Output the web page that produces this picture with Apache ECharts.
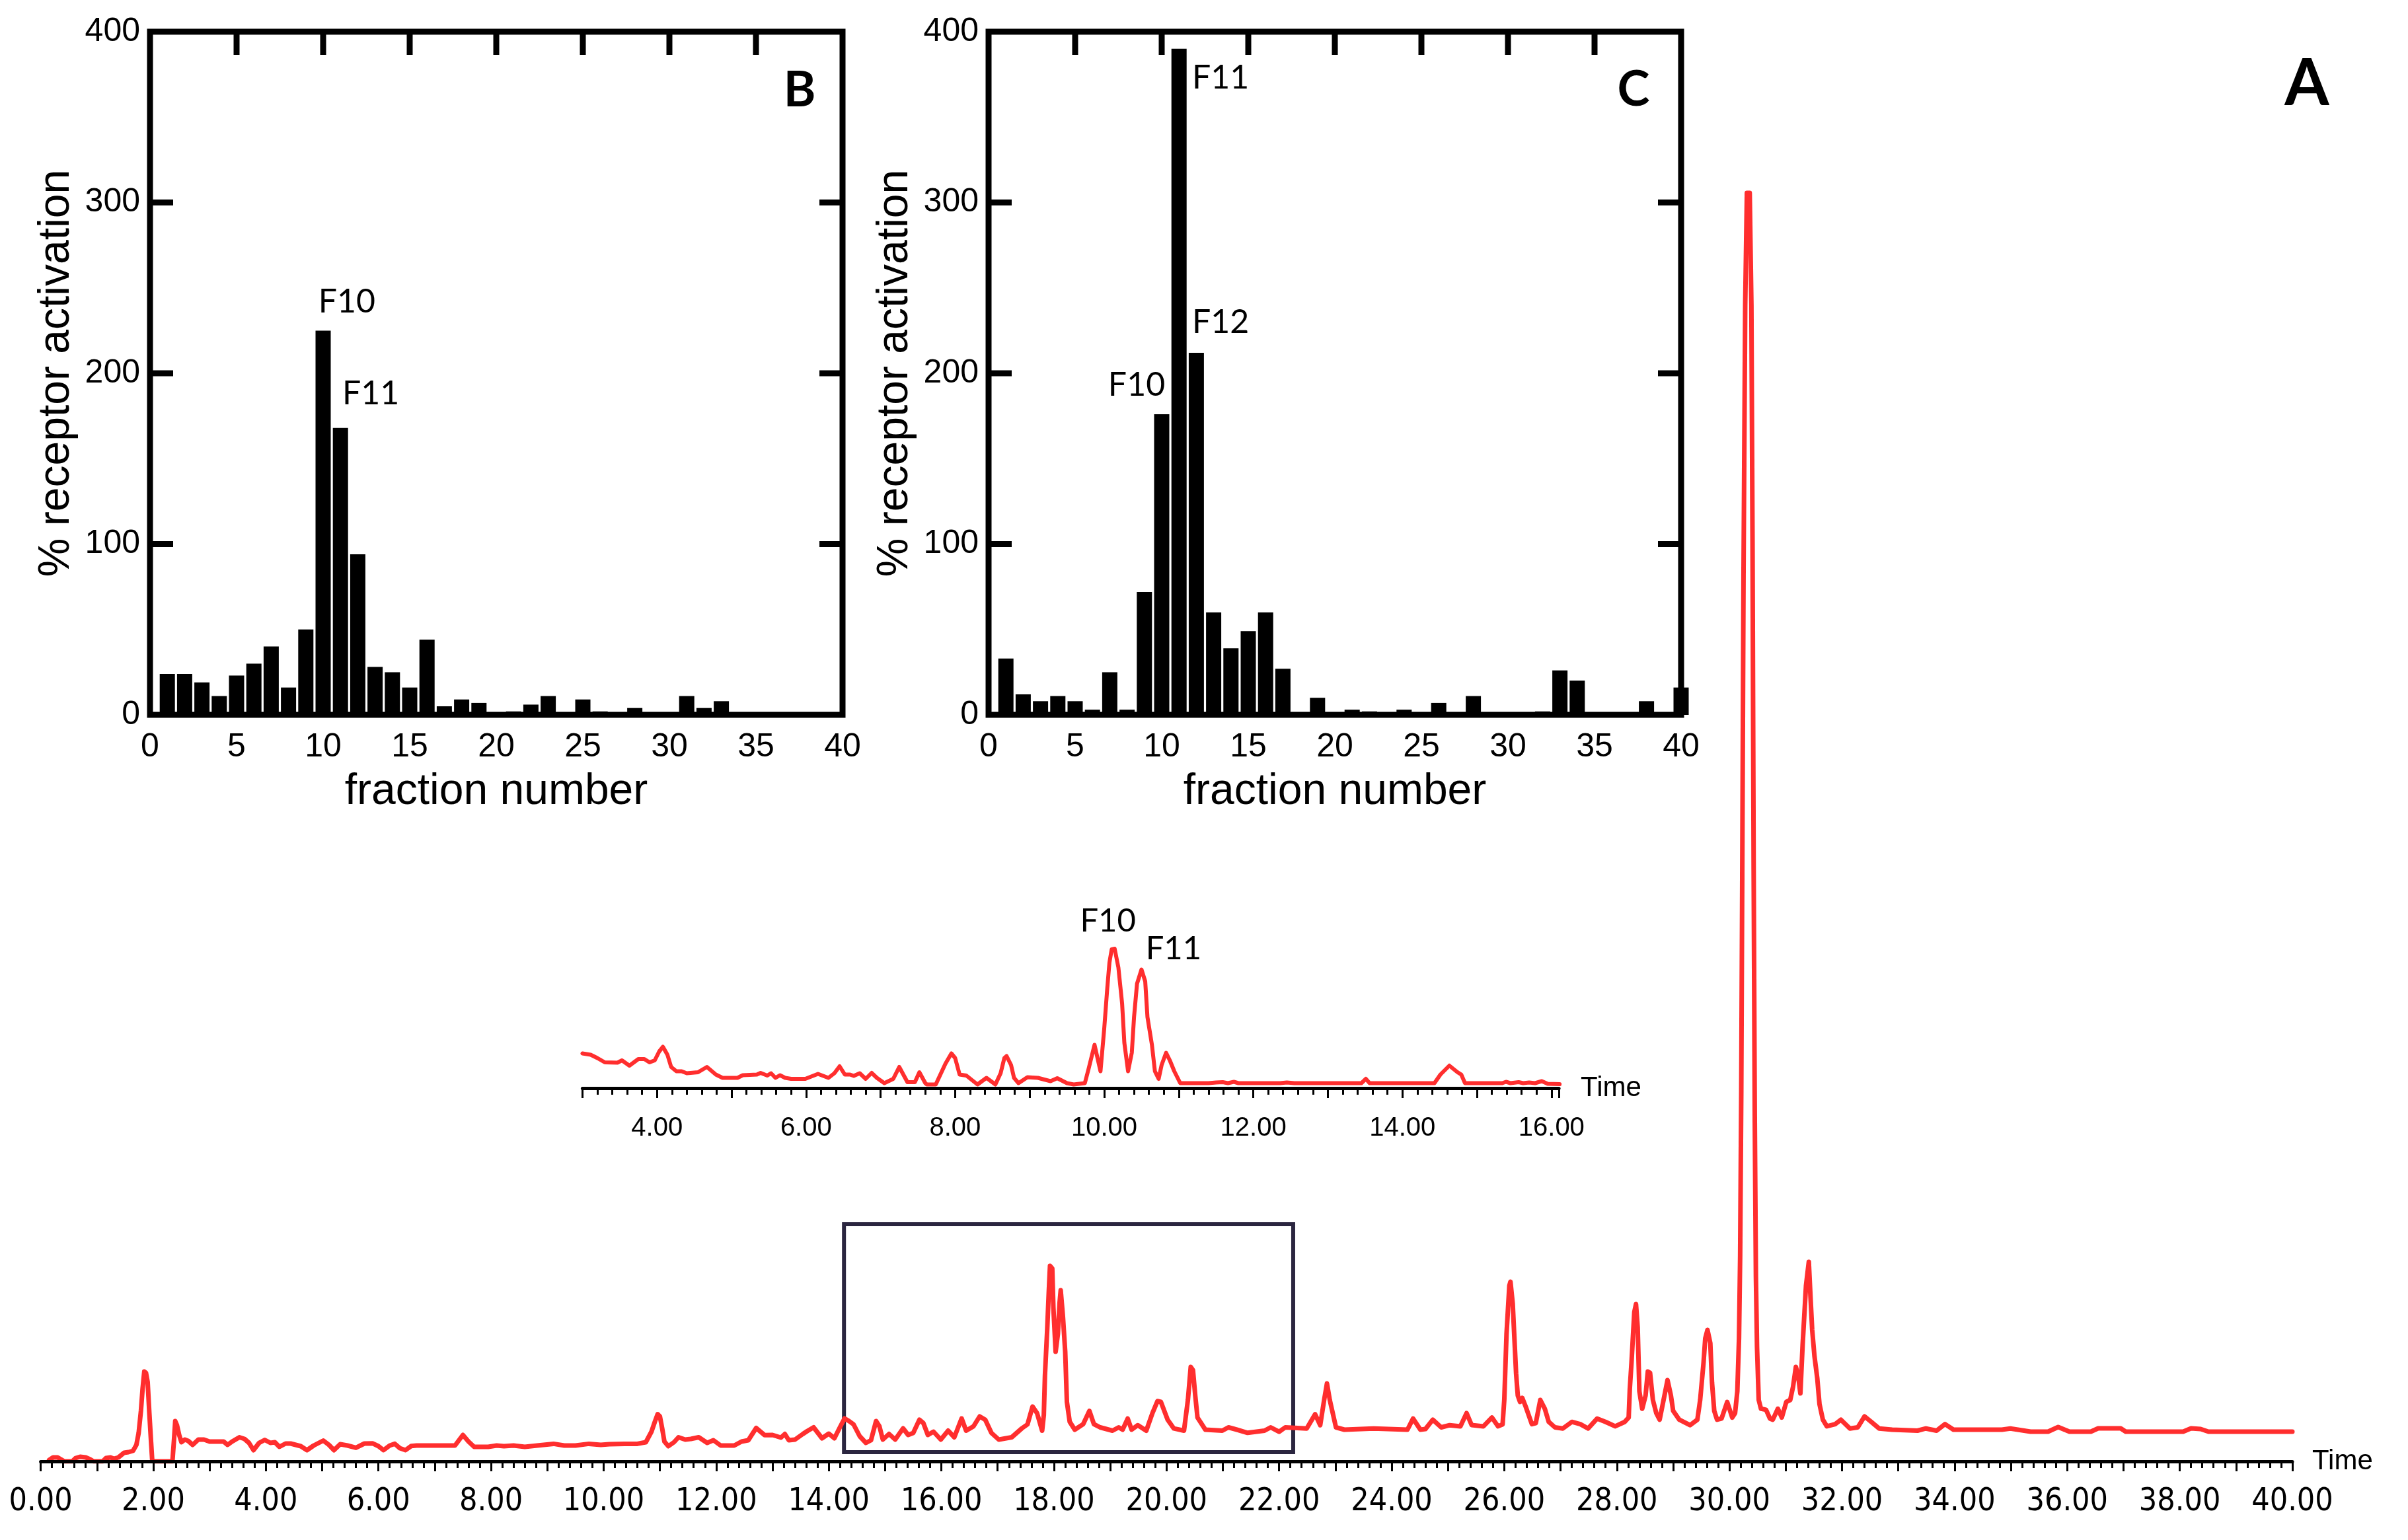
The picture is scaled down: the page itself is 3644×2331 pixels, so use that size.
<!DOCTYPE html>
<html>
<head>
<meta charset="utf-8">
<script src="https://cdn.jsdelivr.net/npm/echarts@6/dist/echarts.min.js"></script>
<style>
  html, body { margin: 0; padding: 0; background: #fff; }
  #chart { width: 3644px; height: 2331px; }
</style>
</head>
<body>
<div id="chart"></div>
<script>
// fraction numbers shared by panels B and C
const fractions = [1, 2, 3, 4, 5, 6, 7, 8, 9, 10, 11, 12, 13, 14, 15, 16, 17, 18, 19, 20,
  21, 22, 23, 24, 25, 26, 27, 28, 29, 30, 31, 32, 33, 34, 35, 36, 37, 38, 39, 40];
// % receptor activation, panel B
const activationB = [24, 24, 19, 11, 23, 30, 40, 16, 50, 225, 168, 94, 28, 25, 16, 44, 5, 9, 7, 1,
  2, 6, 11, 0, 9, 2, 0, 4, 0, 0, 11, 4, 8, 0, 0, 0, 0, 0, 0, 0];
// % receptor activation, panel C
const activationC = [33, 12, 8, 11, 8, 3, 25, 3, 72, 176, 390, 212, 60, 39, 49, 60, 27, 0, 10, 0,
  3, 2, 0, 3, 0, 7, 0, 11, 0, 0, 0, 2, 26, 20, 0, 0, 0, 8, 0, 16];
const labelsB = [["F10", 11.37, 242], ["F11", 12.75, 188]];
const labelsC = [["F11", 13.4, 373], ["F12", 13.4, 230], ["F10", 8.55, 193]];
// inward frame ticks of the bar panels (top edge / left and right edges)
const frameTicksX = [5, 10, 15, 20, 25, 30, 35];
const frameTicksY = [100, 200, 300];

// main chromatogram (A): [time, detector signal]
const traceA = [
  [0.15,0.2],[0.22,0.6],[0.3,0.6],[0.36,0.3],[0.42,0],[0.56,0],[0.62,0.5],[0.7,0.7],[0.8,0.6],[0.88,0.3],
  [0.94,0],[1.1,0],[1.16,0.5],[1.24,0.6],[1.3,0.4],[1.38,0.6],[1.48,1.3],[1.56,1.4],[1.64,1.6],[1.7,2.5],
  [1.74,4.3],[1.78,7.6],[1.81,11],[1.84,13.6],[1.87,13.4],[1.9,12],[1.93,7.3],[1.96,3],[1.98,0.3],[2.0,0],
  [2.34,0],[2.37,3.5],[2.39,6.1],[2.42,5.5],[2.46,4.0],[2.5,2.9],[2.56,3.3],[2.62,3.1],[2.7,2.5],[2.8,3.3],
  [2.9,3.3],[3.0,3.0],[3.12,3.0],[3.25,3.0],[3.32,2.5],[3.4,3.0],[3.53,3.65],[3.62,3.4],[3.7,2.8],[3.78,1.7],
  [3.88,2.8],[3.98,3.25],[4.08,2.8],[4.16,2.9],[4.24,2.2],[4.35,2.7],[4.44,2.7],[4.53,2.5],[4.62,2.3],[4.73,1.7],
  [4.85,2.4],[5.02,3.15],[5.12,2.5],[5.21,1.7],[5.32,2.6],[5.45,2.4],[5.6,2.06],[5.75,2.7],[5.9,2.72],[6.0,2.3],
  [6.09,1.7],[6.2,2.4],[6.29,2.66],[6.38,2.0],[6.48,1.7],[6.58,2.32],[6.68,2.4],[7.0,2.4],[7.36,2.4],[7.5,4.0],
  [7.6,3.0],[7.7,2.2],[7.95,2.2],[8.1,2.4],[8.23,2.3],[8.4,2.4],[8.6,2.2],[8.82,2.4],[9.11,2.66],[9.3,2.4],
  [9.5,2.4],[9.74,2.66],[9.95,2.5],[10.1,2.6],[10.37,2.66],[10.6,2.66],[10.75,2.9],[10.85,4.5],[10.91,6.0],[10.96,7.15],
  [11.0,6.8],[11.04,5.0],[11.08,3.0],[11.15,2.3],[11.25,2.9],[11.33,3.65],[11.45,3.3],[11.55,3.4],[11.69,3.65],[11.84,2.8],
  [11.95,3.2],[12.08,2.4],[12.32,2.4],[12.45,3.0],[12.57,3.2],[12.71,5.05],[12.86,3.98],[13.0,4.0],[13.15,3.6],[13.22,4.15],
  [13.29,3.2],[13.4,3.3],[13.54,4.15],[13.62,4.6],[13.73,5.15],[13.88,3.5],[14.0,4.2],[14.1,3.5],[14.2,5.2],[14.28,6.5],
  [14.36,6.1],[14.44,5.6],[14.55,3.8],[14.66,2.8],[14.75,3.2],[14.84,6.1],[14.9,5.3],[14.96,3.3],[15.07,4.15],[15.18,3.3],
  [15.32,5.0],[15.41,4.0],[15.5,4.3],[15.61,6.3],[15.68,5.8],[15.76,4.0],[15.86,4.5],[15.99,3.3],[16.12,4.65],[16.23,3.65],
  [16.36,6.5],[16.44,4.65],[16.57,5.3],[16.68,6.8],[16.78,6.3],[16.89,4.3],[17.02,3.3],[17.25,3.65],[17.43,5.0],[17.53,5.6],
  [17.62,8.3],[17.7,7.3],[17.79,4.65],[17.82,7],[17.84,13],[17.88,19.9],[17.91,26],[17.93,29.6],[17.97,29.2],[17.99,23.3],
  [18.03,16.6],[18.07,19.3],[18.1,24],[18.12,25.9],[18.16,21.9],[18.2,16.6],[18.23,9.0],[18.28,6.0],[18.37,4.8],[18.52,5.64],
  [18.63,7.64],[18.71,5.64],[18.82,5.15],[19.04,4.65],[19.15,5.15],[19.22,4.8],[19.31,6.48],[19.38,4.8],[19.49,5.48],[19.64,4.65],
  [19.75,7.31],[19.84,9.13],[19.9,9.0],[20.02,6.31],[20.13,4.98],[20.31,4.65],[20.38,9.3],[20.43,14.3],[20.47,13.8],[20.51,9.97],
  [20.55,6.64],[20.69,4.8],[20.99,4.65],[21.1,5.15],[21.25,4.8],[21.44,4.32],[21.74,4.65],[21.85,5.15],[22.0,4.48],[22.11,5.15],
  [22.49,4.98],[22.64,7.14],[22.73,5.48],[22.8,9.3],[22.85,11.8],[22.9,9.3],[23.01,5.15],[23.16,4.8],[23.68,4.98],[24.28,4.8],
  [24.38,6.48],[24.51,4.8],[24.6,4.9],[24.73,6.31],[24.88,5.15],[25.03,5.48],[25.22,5.31],[25.33,7.31],[25.42,5.5],[25.63,5.31],
  [25.78,6.64],[25.89,5.31],[25.97,5.6],[26.0,9.3],[26.04,19.3],[26.09,26.6],[26.11,27.2],[26.15,23.9],[26.18,18.6],[26.21,13.3],
  [26.24,9.97],[26.28,9.0],[26.32,9.6],[26.38,8.3],[26.49,5.64],[26.56,5.8],[26.64,9.3],[26.72,7.97],[26.79,5.98],[26.9,5.15],
  [27.04,4.98],[27.2,5.98],[27.35,5.64],[27.49,4.98],[27.65,6.48],[27.8,5.98],[27.97,5.31],[28.14,5.98],[28.21,6.64],[28.23,10.96],
  [28.26,14.95],[28.31,22.6],[28.34,23.8],[28.37,20.3],[28.4,10.6],[28.45,7.97],[28.51,9.97],[28.55,13.6],[28.59,13.4],[28.64,9.3],
  [28.7,7.31],[28.76,6.31],[28.83,9.3],[28.9,12.3],[28.96,9.97],[29.0,7.64],[29.11,6.31],[29.3,5.48],[29.43,6.31],[29.48,9.3],
  [29.54,14.95],[29.57,18.6],[29.61,19.9],[29.66,17.9],[29.69,11.96],[29.73,7.64],[29.78,6.31],[29.86,6.48],[29.96,9.0],[30.05,6.64],
  [30.1,7.3],[30.14,10.6],[30.17,18.6],[30.19,31],[30.21,56],[30.23,94],[30.25,134],[30.28,175],[30.31,192],[30.36,192],
  [30.39,175],[30.41,139],[30.43,90],[30.45,52],[30.47,28],[30.49,17.3],[30.52,9.3],[30.56,7.97],[30.65,7.81],[30.72,6.48],
  [30.77,6.31],[30.86,7.97],[30.93,6.64],[31.01,9.0],[31.08,9.3],[31.13,11.3],[31.18,14.3],[31.22,13],[31.26,10.3],[31.3,17.6],
  [31.36,26.6],[31.41,30.2],[31.44,24.9],[31.47,19.9],[31.51,15.95],[31.56,12.6],[31.6,8.64],[31.66,6.31],[31.73,5.31],[31.88,5.64],
  [31.98,6.31],[32.14,4.98],[32.28,5.15],[32.4,6.81],[32.52,5.98],[32.66,4.98],[32.89,4.8],[33.34,4.65],[33.49,4.98],[33.68,4.65],
  [33.83,5.64],[33.98,4.8],[34.84,4.8],[34.99,4.98],[35.35,4.5],[35.66,4.5],[35.84,5.2],[36.04,4.5],[36.42,4.5],[36.55,5.0],
  [36.95,5.0],[37.04,4.5],[38.06,4.5],[38.2,5.0],[38.37,4.9],[38.51,4.5],[40.0,4.5]
];

// inset chromatogram: [time, detector signal]
const traceInset = [
  [3.0,10.5],[3.11,10.1],[3.2,9.1],[3.3,7.8],[3.47,7.7],[3.53,8.4],[3.63,6.8],[3.75,8.8],[3.83,8.8],[3.9,7.8],
  [3.97,8.4],[4.03,11.1],[4.08,12.5],[4.14,10.1],[4.19,6.4],[4.26,5.1],[4.33,5.1],[4.4,4.5],[4.55,4.8],[4.67,6.4],
  [4.79,4.1],[4.88,3.1],[5.08,3.1],[5.15,3.9],[5.34,4.1],[5.39,4.6],[5.48,3.8],[5.53,4.5],[5.59,3.1],[5.65,3.9],
  [5.72,3.1],[5.8,2.8],[5.99,2.8],[6.16,4.3],[6.3,3.1],[6.38,4.5],[6.45,6.6],[6.52,4.1],[6.59,4.1],[6.64,3.7],
  [6.72,4.5],[6.8,2.8],[6.88,4.6],[6.95,3.1],[7.05,1.5],[7.17,2.8],[7.25,6.4],[7.36,1.8],[7.46,1.8],[7.52,4.8],
  [7.6,1.5],[7.62,1.1],[7.74,1.1],[7.81,4.5],[7.87,7.4],[7.95,10.5],[8.0,9.1],[8.06,4.1],[8.15,3.8],[8.3,1.1],
  [8.42,3.1],[8.54,1.1],[8.61,4.5],[8.66,9.1],[8.69,9.7],[8.75,7.0],[8.79,3.1],[8.85,1.5],[8.97,3.3],[9.11,3.1],
  [9.28,2.1],[9.37,3.0],[9.5,1.5],[9.59,1.1],[9.74,1.5],[9.79,5.8],[9.87,13.1],[9.95,5.1],[10.0,18],[10.04,30],
  [10.07,38],[10.1,42],[10.14,42.2],[10.19,36.5],[10.24,25.6],[10.27,13.7],[10.32,5.1],[10.37,10.7],[10.4,21.5],[10.44,31.6],
  [10.5,35.9],[10.55,32.3],[10.58,21.5],[10.64,13.1],[10.68,5.1],[10.73,2.8],[10.77,7.0],[10.83,10.7],[10.88,8.4],[10.94,5.1],
  [11.02,1.5],[11.4,1.5],[11.5,1.7],[11.59,1.8],[11.66,1.5],[11.74,1.9],[11.8,1.5],[12.36,1.5],[12.45,1.7],[12.55,1.5],
  [13.45,1.5],[13.51,2.8],[13.56,1.5],[14.43,1.5],[14.51,4.1],[14.63,6.8],[14.74,4.8],[14.79,4.1],[14.84,1.5],[15.34,1.5],
  [15.39,1.9],[15.45,1.5],[15.56,1.8],[15.62,1.5],[15.7,1.7],[15.78,1.5],[15.87,2.1],[15.95,1.3],[16.11,1.2]
];
const labelsInset = [["F10", 10.05, 50.6], ["F11", 10.93, 42.2]];
// zoomed region outlined on the main trace
const boxA = [[14.27, 1.4], [22.25, 35.9]];

const sansFont = "'Liberation Sans', Arial, sans-serif";
const narrowFont = "'Liberation Sans Narrow', 'Arial Narrow', 'DejaVu Sans Condensed', 'Liberation Sans', sans-serif";
const calFont = "Lato, 'Open Sans', sans-serif";
const red = "#ff2e2e";

function peakLabels(list, size) {
  return {
    symbol: "rect",
    symbolSize: 1,
    itemStyle: { color: "rgba(0,0,0,0)" },
    label: {
      show: true, position: "inside", formatter: (p) => p.name,
      color: "#000", fontSize: size, fontFamily: calFont
    },
    data: list.map((l) => ({ name: l[0], coord: [l[1], l[2]] }))
  };
}

function panelX(g) {
  return {
    gridIndex: g, type: "value", min: 0, max: 40, interval: 5,
    axisLine: { show: false }, axisTick: { show: false }, splitLine: { show: false },
    axisLabel: { fontSize: 50, color: "#000", fontFamily: sansFont, margin: 24 },
    name: "fraction number", nameLocation: "middle", nameGap: 84,
    nameTextStyle: { fontSize: 66, color: "#000", fontFamily: sansFont }
  };
}

function panelY(g) {
  return {
    gridIndex: g, type: "value", min: 0, max: 400, interval: 100,
    axisLine: { show: false }, axisTick: { show: false }, splitLine: { show: false },
    axisLabel: { fontSize: 50, color: "#000", fontFamily: sansFont, margin: 15 },
    name: "% receptor activation", nameLocation: "middle", nameGap: 108,
    nameTextStyle: { fontSize: 66, color: "#000", fontFamily: sansFont }
  };
}

function timeAxis(g, min, max, labelSize, margin, gap) {
  return {
    gridIndex: g, type: "value", min: min, max: max, interval: 1, z: 5,
    axisLine: { show: true, lineStyle: { color: "#000", width: 5 } },
    axisTick: { show: true, length: 15, lineStyle: { color: "#000", width: 3 } },
    minorTick: { show: true, splitNumber: 5, length: 10, lineStyle: { color: "#000", width: 3 } },
    splitLine: { show: false },
    axisLabel: {
      fontSize: labelSize, color: "#000", margin: margin, showMinLabel: true, showMaxLabel: true,
      fontFamily: labelSize > 42 ? narrowFont : sansFont,
      formatter: (v) => (Math.abs(v % 2) < 1e-6 ? v.toFixed(2) : "")
    },
    name: "Time", nameLocation: "end", nameGap: gap,
    nameTextStyle: { fontSize: 42, color: "#000", fontFamily: sansFont, verticalAlign: "middle" }
  };
}

function panelLetter(text, x, y, size) {
  return {
    type: "text", x: x, y: y, z: 10,
    style: { text: text, fontSize: size, fontWeight: "bold", fontFamily: calFont, fill: "#000", textAlign: "center", textVerticalAlign: "middle" }
  };
}

const chart = echarts.init(document.getElementById("chart"), null, { renderer: "canvas" });
chart.setOption({
  backgroundColor: "#fff",
  animation: false,
  grid: [
    { left: 227, top: 48, width: 1048, height: 1034, show: true, borderColor: "#000", borderWidth: 9, backgroundColor: "rgba(0,0,0,0)" },
    { left: 1496, top: 48, width: 1048, height: 1034, show: true, borderColor: "#000", borderWidth: 9, backgroundColor: "rgba(0,0,0,0)" },
    { left: 61.6, top: 212, width: 3407.4, height: 2000 },
    { left: 881.4, top: 1347, width: 1477.7, height: 300 }
  ],
  xAxis: [
    panelX(0), panelX(1),
    timeAxis(2, 0, 40, 48, 38, 30),
    timeAxis(3, 3, 16.1, 40, 41, 33)
  ],
  yAxis: [
    panelY(0), panelY(1),
    { gridIndex: 2, type: "value", min: 0, max: 200, show: false },
    { gridIndex: 3, type: "value", min: 0, max: 60, show: false }
  ],
  series: [
    {
      type: "bar", xAxisIndex: 0, yAxisIndex: 0, barWidth: 23,
      itemStyle: { color: "#000" },
      data: fractions.map((f, i) => [f, activationB[i]]),
      markPoint: peakLabels(labelsB, 50)
    },
    {
      type: "bar", xAxisIndex: 1, yAxisIndex: 1, barWidth: 23,
      itemStyle: { color: "#000" },
      data: fractions.map((f, i) => [f, activationC[i]]),
      markPoint: peakLabels(labelsC, 50)
    },
    {
      type: "line", xAxisIndex: 2, yAxisIndex: 2, showSymbol: false,
      lineStyle: { color: red, width: 7, cap: "round", join: "round" },
      data: traceA,
      markArea: {
        silent: true,
        itemStyle: { color: "rgba(0,0,0,0)", borderColor: "#2b2640", borderWidth: 6 },
        data: [[{ coord: boxA[0] }, { coord: boxA[1] }]]
      }
    },
    {
      type: "line", xAxisIndex: 3, yAxisIndex: 3, showSymbol: false,
      lineStyle: { color: red, width: 6, cap: "round", join: "round" },
      data: traceInset,
      markPoint: peakLabels(labelsInset, 49)
    }
  ]
});

// inward ticks on the top, left and right frame edges, placed through each panel's own scales
const tickLen = 35;
const graphics = [
  panelLetter("A", 3491, 128, 97),
  panelLetter("B", 1210, 137, 74),
  panelLetter("C", 2472, 136, 74)
];
[0, 1].forEach((g) => {
  const [left, top] = chart.convertToPixel({ gridIndex: g }, [0, 400]);
  const [right] = chart.convertToPixel({ gridIndex: g }, [40, 0]);
  const seg = (x1, y1, x2, y2) => ({
    type: "line", z: 10, shape: { x1, y1, x2, y2 }, style: { stroke: "#000", lineWidth: 9 }
  });
  frameTicksX.forEach((v) => {
    const px = chart.convertToPixel({ gridIndex: g }, [v, 400])[0];
    graphics.push(seg(px, top, px, top + tickLen));
  });
  frameTicksY.forEach((v) => {
    const py = chart.convertToPixel({ gridIndex: g }, [0, v])[1];
    graphics.push(seg(left, py, left + tickLen, py));
    graphics.push(seg(right - tickLen, py, right, py));
  });
});
chart.setOption({ graphic: graphics });
</script>
</body>
</html>
